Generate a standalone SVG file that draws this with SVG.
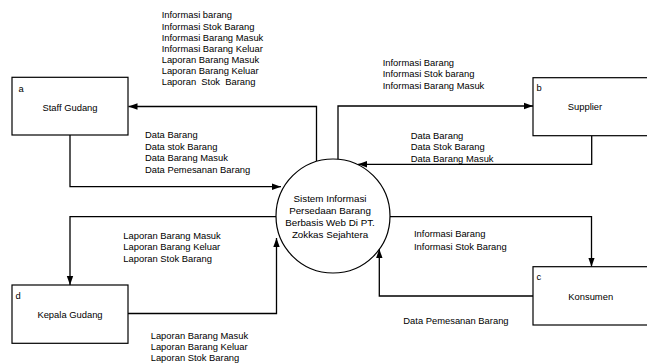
<svg xmlns="http://www.w3.org/2000/svg" width="647" height="364" viewBox="0 0 647 364">
<defs>
<marker id="arr" markerUnits="userSpaceOnUse" markerWidth="10" markerHeight="8" refX="9" refY="4" orient="auto">
<path d="M0,0.8 L9,4 L0,7.2 Z" fill="#000"/>
</marker>
<style>
text{font-family:"Liberation Sans",Arial,sans-serif;font-size:9.4px;fill:#000}
.c{text-anchor:middle}
.pt{font-size:9.8px}
.box{fill:#fff;stroke:#000;stroke-width:1.2}
.proc{fill:#fff;stroke:#000;stroke-width:1.2}
.ln{fill:none;stroke:#000;stroke-width:1.3;marker-end:url(#arr)}
</style>
</defs>
<rect width="647" height="364" fill="#fff"/>
<g id="connectors">
<path class="ln" d="M316.5,161 V106.5 H128.5"/>
<path class="ln" d="M70,135 V186.7 H281"/>
<path class="ln" d="M338,160 V106 H533"/>
<path class="ln" d="M591.7,135.7 V164.3 H358"/>
<path class="ln" d="M390,216.7 H591.5 V266.7"/>
<path class="ln" d="M533,296 H379.3 V249"/>
<path class="ln" d="M276.5,216.7 H70 V285"/>
<path class="ln" d="M128,313.5 H276.5 V238"/>
</g>
<g id="labels">
<text x="161.7" y="18.4">Informasi barang</text>
<text x="161.7" y="29.5">Informasi Stok Barang</text>
<text x="161.7" y="40.6">Informasi Barang Masuk</text>
<text x="161.7" y="51.7">Informasi Barang Keluar</text>
<text x="161.7" y="62.8">Laporan Barang Masuk</text>
<text x="161.7" y="73.9">Laporan Barang Keluar</text>
<text x="161.7" y="85" xml:space="preserve">Laporan  Stok  Barang</text>
<text x="145" y="138">Data Barang</text>
<text x="145" y="149.5">Data stok Barang</text>
<text x="145" y="161">Data Barang Masuk</text>
<text x="145" y="172.5">Data Pemesanan Barang</text>
<text x="382.7" y="66">Informasi Barang</text>
<text x="382.7" y="77.3">Informasi Stok barang</text>
<text x="382.7" y="88.6">Informasi Barang Masuk</text>
<text x="410.7" y="139">Data Barang</text>
<text x="410.7" y="150.3">Data Stok Barang</text>
<text x="410.7" y="161.6">Data Barang Masuk</text>
<text x="123.3" y="239">Laporan Barang Masuk</text>
<text x="123.3" y="250.3">Laporan Barang Keluar</text>
<text x="123.3" y="261.6">Laporan Stok Barang</text>
<text x="150.7" y="338.5">Laporan Barang Masuk</text>
<text x="150.7" y="349.8">Laporan Barang Keluar</text>
<text x="150.7" y="361.1">Laporan Stok Barang</text>
<text x="414" y="236.5">Informasi Barang</text>
<text x="414" y="249.5">Informasi Stok Barang</text>
<text x="403.3" y="323.5">Data Pemesanan Barang</text>
</g>
<g id="process">
<circle class="proc" cx="333" cy="216" r="57"/>
<text class="c pt" x="330" y="202.3">Sistem Informasi</text>
<text class="c pt" x="330" y="214">Persedaan Barang</text>
<text class="c pt" x="330" y="225.8">Berbasis Web Di PT.</text>
<text class="c pt" x="330" y="237.6">Zokkas Sejahtera</text>
</g>
<g id="staff">
<rect class="box" x="12" y="77.3" width="116" height="57.7"/>
<text x="18.5" y="91.5">a</text>
<text class="c" x="70" y="110.5">Staff Gudang</text>
</g>
<g id="supplier">
<rect class="box" x="533" y="77.7" width="116" height="58"/>
<text x="536.5" y="91">b</text>
<text class="c" x="585" y="110">Supplier</text>
</g>
<g id="konsumen">
<rect class="box" x="533" y="266.7" width="116" height="58.3"/>
<text x="536.5" y="280">c</text>
<text class="c" x="590.7" y="299.5">Konsumen</text>
</g>
<g id="kepala">
<rect class="box" x="12" y="285" width="116" height="58.3"/>
<text x="15.5" y="298.5">d</text>
<text class="c" x="70" y="317.5">Kepala Gudang</text>
</g>
</svg>
